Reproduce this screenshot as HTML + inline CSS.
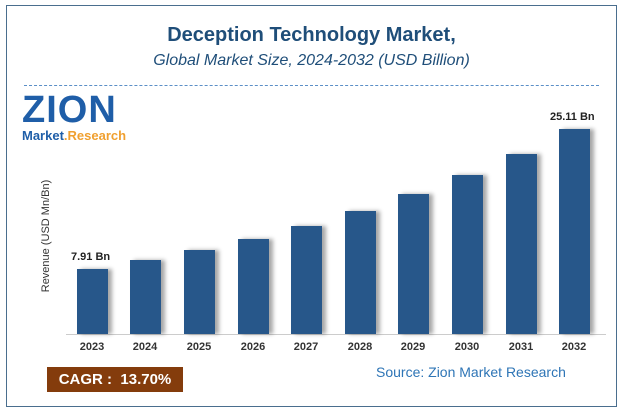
<!DOCTYPE html>
<html><head><style>
body{margin:0;width:623px;height:413px;background:#fff;font-family:"Liberation Sans",sans-serif;position:relative;overflow:hidden}
.frame{position:absolute;left:6px;top:5px;width:609px;height:400px;border:1px solid #4a6e8e}
.t1{position:absolute;top:24px;width:623px;text-align:center;font-weight:bold;font-size:20px;color:#1f4e79}
.t2{position:absolute;top:52px;width:623px;text-align:center;font-style:italic;font-size:16px;color:#1f4e79}
.dash{position:absolute;left:24px;top:85px;width:575px;border-top:1.5px dashed #5b8fc7}
.bar{position:absolute;width:31px;background:#27578a;box-shadow:4px 0 4px rgba(0,0,0,.35)}
.yr{position:absolute;top:341px;width:50px;text-align:center;font-size:11px;font-weight:bold;color:#333}
.axis{position:absolute;left:66px;top:334px;width:540px;border-top:1px solid #ccc}
.lbl{position:absolute;font-size:11px;font-weight:bold;color:#222}
.ylab{position:absolute;left:-14px;top:230px;transform:rotate(-90deg);font-size:11px;color:#333;width:120px;text-align:center}
.cagr{position:absolute;left:47px;top:367px;width:136px;height:25px;background:#843c0c;color:#fff;font-weight:bold;font-size:15px;line-height:25px;text-align:center}
.src{position:absolute;left:376px;top:364px;font-size:14px;color:#2e75b6}
</style></head><body>
<div class="frame"></div>
<div class="t1">Deception Technology Market,</div>
<div class="t2">Global Market Size, 2024-2032 (USD Billion)</div>
<div class="dash"></div>
<div style="position:absolute;left:22px;top:92px;font-weight:bold;font-size:38px;color:#1f5ea8;letter-spacing:1px;font-family:'Liberation Sans',sans-serif;line-height:36px">ZION</div>
<div style="position:absolute;left:22px;top:128px;font-size:13px;font-weight:bold;color:#1f5ea8">Market<span style="color:#f0a030">.Research</span></div>
<div class="ylab">Revenue (USD Mn/Bn)</div>
<div class="axis"></div>
<div class="bar" style="left:77px;top:269px;height:65px"></div>
<div class="bar" style="left:130px;top:260px;height:74px"></div>
<div class="bar" style="left:184px;top:250px;height:84px"></div>
<div class="bar" style="left:238px;top:239px;height:95px"></div>
<div class="bar" style="left:291px;top:226px;height:108px"></div>
<div class="bar" style="left:345px;top:211px;height:123px"></div>
<div class="bar" style="left:398px;top:194px;height:140px"></div>
<div class="bar" style="left:452px;top:175px;height:159px"></div>
<div class="bar" style="left:506px;top:154px;height:180px"></div>
<div class="bar" style="left:559px;top:129px;height:205px"></div>
<div class="lbl" style="left:71px;top:251px">7.91 Bn</div>
<div class="lbl" style="left:550px;top:111px">25.11 Bn</div>
<div class="yr" style="left:67px">2023</div>
<div class="yr" style="left:120px">2024</div>
<div class="yr" style="left:174px">2025</div>
<div class="yr" style="left:228px">2026</div>
<div class="yr" style="left:281px">2027</div>
<div class="yr" style="left:335px">2028</div>
<div class="yr" style="left:388px">2029</div>
<div class="yr" style="left:442px">2030</div>
<div class="yr" style="left:496px">2031</div>
<div class="yr" style="left:549px">2032</div>
<div class="cagr">CAGR : &nbsp;13.70%</div>
<div class="src">Source: Zion Market Research</div>
</body></html>
